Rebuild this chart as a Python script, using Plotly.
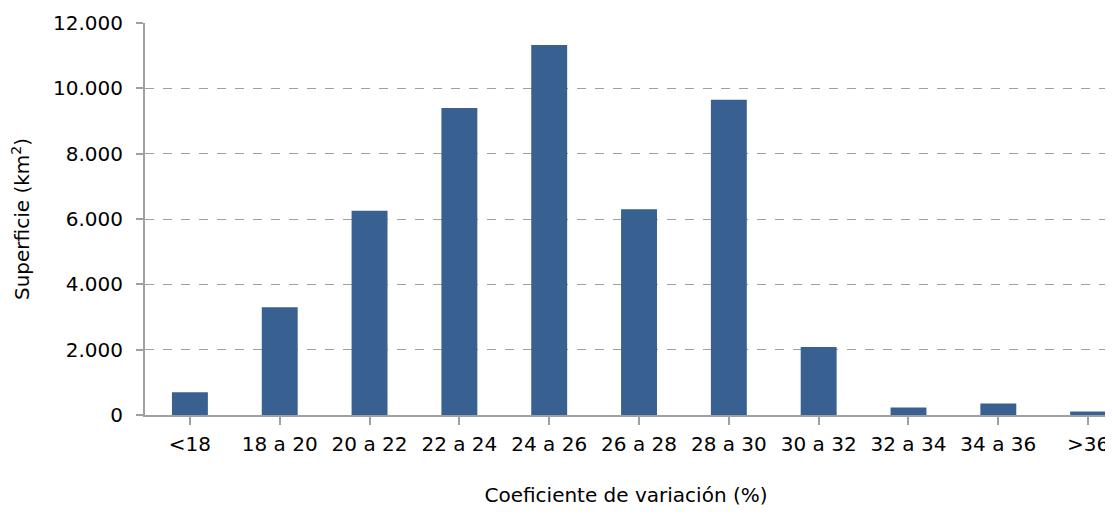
import plotly.graph_objects as go

categories = ["<18", "18 a 20", "20 a 22", "22 a 24", "24 a 26", "26 a 28",
              "28 a 30", "30 a 32", "32 a 34", "34 a 36", ">36"]
superficie = [700, 3300, 6250, 9400, 11330, 6300, 9650, 2080, 230, 350, 110]
y_ticks = [0, 2000, 4000, 6000, 8000, 10000, 12000]

FONT = "DejaVu Sans"
FS = 20
OFF = 8  # default page body margin compensation

fig = go.Figure(go.Bar(
    x=list(range(len(categories))),
    y=superficie,
    width=0.4,
    marker=dict(color="#386192", line=dict(width=0)),
))

fig.update_layout(
    width=1113 - OFF, height=515 - OFF,
    margin=dict(l=145 - OFF, r=6, t=23 - OFF, b=100),
    plot_bgcolor="white", paper_bgcolor="white",
    separators=",.",
    showlegend=False,
    font=dict(family=FONT, size=FS, color="#000000"),
    xaxis=dict(
        range=[-0.5, 10.21],
        automargin=False,
        tickmode="array",
        tickvals=list(range(len(categories))),
        ticktext=categories,
        showline=True, linecolor="#A0A0A0", linewidth=2,
        showgrid=False, zeroline=False,
        ticks="outside", tickson="boundaries", ticklen=8, tickcolor="#A0A0A0",
        tickwidth=2,
        ticklabelstandoff=2,
        tickfont=dict(family=FONT, size=FS),
        title=dict(text="Coeficiente de variación (%)", font=dict(family=FONT, size=FS), standoff=33),
    ),
    yaxis=dict(
        range=[0, 12000],
        automargin=False,
        tickmode="array",
        tickvals=y_ticks,
        tickformat=",d",
        showline=True, linecolor="#A0A0A0", linewidth=2,
        showgrid=True, gridcolor="#A0A0A0", griddash="dash", gridwidth=1,
        zeroline=False,
        ticks="outside", ticklen=7, tickcolor="#A0A0A0", tickwidth=2,
        tickfont=dict(family=FONT, size=FS),
        ticklabelstandoff=9,
        title=dict(text="Superficie (km<sup>2</sup>)", font=dict(family=FONT, size=FS), standoff=20),
    ),
)

fig.write_html("out.html")
